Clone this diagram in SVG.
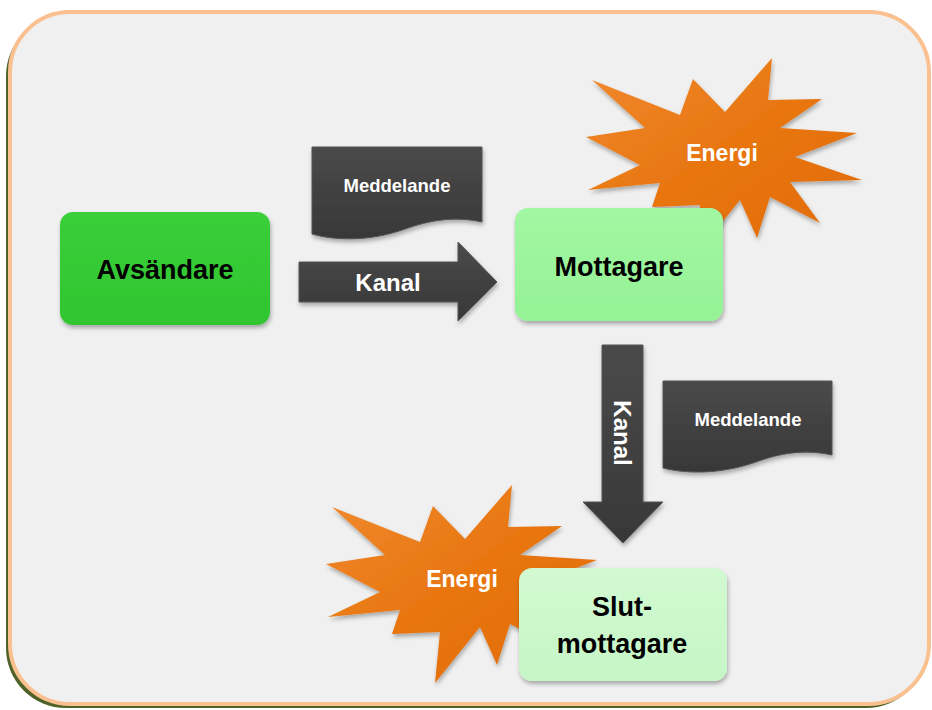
<svg xmlns="http://www.w3.org/2000/svg" width="932" height="710" viewBox="0 0 932 710">
<style>
.lbl{font-family:"Liberation Sans",Arial,sans-serif;font-weight:bold;text-anchor:middle}
.dark{fill:url(#gDark);stroke:#555;stroke-width:1}
.white{fill:#fff}
.black{fill:#000}
</style>
<defs>
<linearGradient id="gDark" x1="0" y1="0" x2="0" y2="1"><stop offset="0" stop-color="#4a4a4a"/><stop offset="1" stop-color="#383838"/></linearGradient>
<linearGradient id="gStar" x1="0" y1="0" x2="1" y2="1"><stop offset="0" stop-color="#F08A30"/><stop offset="0.5" stop-color="#E8750F"/><stop offset="1" stop-color="#E06C0B"/></linearGradient>
<linearGradient id="gG1" x1="0" y1="0" x2="0" y2="1"><stop offset="0" stop-color="#3ACF3A"/><stop offset="1" stop-color="#30C530"/></linearGradient>
<linearGradient id="gG2" x1="0" y1="0" x2="0" y2="1"><stop offset="0" stop-color="#A2F7A2"/><stop offset="1" stop-color="#95F295"/></linearGradient>
<linearGradient id="gG3" x1="0" y1="0" x2="0" y2="1"><stop offset="0" stop-color="#D2F9D2"/><stop offset="1" stop-color="#C6F6C6"/></linearGradient>
<filter id="sh" x="-10%" y="-10%" width="130%" height="130%"><feDropShadow dx="1" dy="3" stdDeviation="2" flood-color="#000" flood-opacity="0.3"/></filter>
<path id="star" d="M592,80 L680,115 L693,79 L725,112 L772,58 L768,100 L822,99 L780,128 L857,133 L795,157 L862,180 L790,182 L820,223 L770,197 L757,238 L740,200 L695,256 L700,205 L652,207 L660,183 L588,190 L640,165 L586,137 L645,128 Z"/>
</defs>
<rect x="0" y="0" width="932" height="710" fill="#fff"/>
<g id="frame">
<rect x="6" y="16" width="920" height="692" rx="60" ry="60" fill="#4F6228"/>
<rect x="10" y="12" width="919" height="692" rx="60" ry="60" fill="#F0F0F0" stroke="#FAC090" stroke-width="4"/>
</g>
<g id="energi1">
<use href="#star" fill="url(#gStar)" filter="url(#sh)"/>
<text class="lbl white" x="722" y="161" font-size="23">Energi</text>
</g>
<g id="energi2">
<use href="#star" transform="translate(-260,427)" fill="url(#gStar)" filter="url(#sh)"/>
<text class="lbl white" x="462" y="587" font-size="23">Energi</text>
</g>
<g id="connectors">
<g id="kanal1">
<path class="dark" filter="url(#sh)" d="M299,262 H458 V242 L497,282 L458,321 V302 H299 Z"/>
<text class="lbl white" x="388" y="291" font-size="24">Kanal</text>
</g>
<g id="kanal2">
<path class="dark" filter="url(#sh)" d="M602,345 H643 V502 H663 L623,543 L583,502 H602 Z"/>
<text class="lbl white" transform="translate(614,433) rotate(90)" x="0" y="0" font-size="24">Kanal</text>
</g>
</g>
<g id="meddelande1">
<path class="dark" filter="url(#sh)" d="M312,147 H482 V222 C455,216 430,220 405,229 C375,240 340,242 312,234 Z"/>
<text class="lbl white" x="397" y="192" font-size="18.5">Meddelande</text>
</g>
<g id="meddelande2">
<path class="dark" filter="url(#sh)" d="M663,381 H832 V455 C805,449 780,453 756,462 C725,473 690,475 663,468 Z"/>
<text class="lbl white" x="748" y="426" font-size="18.5">Meddelande</text>
</g>
<g id="avsandare">
<rect x="60" y="212" width="210" height="113" rx="13" fill="url(#gG1)" filter="url(#sh)"/>
<text class="lbl black" x="165" y="279" font-size="27">Avsändare</text>
</g>
<g id="mottagare">
<rect x="515" y="208" width="208" height="113" rx="13" fill="url(#gG2)" filter="url(#sh)"/>
<text class="lbl black" x="619" y="276" font-size="27">Mottagare</text>
</g>
<g id="slutmottagare">
<rect x="519" y="568" width="208" height="113" rx="13" fill="url(#gG3)" filter="url(#sh)"/>
<text class="lbl black" x="622" y="616" font-size="27">Slut-</text>
<text class="lbl black" x="622" y="653" font-size="27">mottagare</text>
</g>
</svg>
